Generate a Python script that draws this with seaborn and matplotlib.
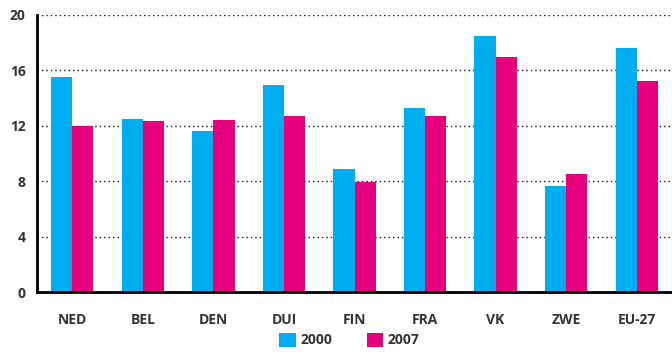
import matplotlib
matplotlib.use("Agg")
import matplotlib.pyplot as plt
from matplotlib.ticker import FixedLocator
from matplotlib.patches import Patch
import seaborn as sns
import pandas as pd

countries = ["NED", "BEL", "DEN", "DUI", "FIN", "FRA", "VK", "ZWE", "EU-27"]
years = ["2000", "2007"]
values_2000 = [15.5, 12.5, 11.6, 14.95, 8.9, 13.3, 18.45, 7.65, 17.65]
values_2007 = [12.0, 12.35, 12.45, 12.7, 7.95, 12.7, 17.0, 8.55, 15.2]
y_ticks = [0, 4, 8, 12, 16, 20]

colors = {"2000": "#00AEEF", "2007": "#E6007E"}
text_color = "#333333"

df = pd.DataFrame({
    "land": countries * 2,
    "jaar": [years[0]] * len(countries) + [years[1]] * len(countries),
    "waarde": values_2000 + values_2007,
})

sns.set_theme(style="white")
plt.rcParams["font.family"] = ["Open Sans", "DejaVu Sans"]

fig = plt.figure(figsize=(6.72, 3.55), dpi=100)
ax = fig.add_axes([37 / 672, (355 - 292) / 355, 1 - 37 / 672, (292 - 15) / 355])

sns.barplot(data=df, x="land", y="waarde", hue="jaar", order=countries,
            hue_order=years, palette=colors, width=0.6, saturation=1,
            edgecolor="none", linewidth=0, ax=ax, legend=False, zorder=3)

ax.set_xlim(-0.5, len(countries) - 0.5)
ax.set_ylim(0, 20)
ax.set_yticks(y_ticks)
ax.set_xlabel("")
ax.set_ylabel("")

# dotted horizontal grid
for y in y_ticks[1:]:
    ax.axhline(y, color="#111111", linestyle=(0, (1, 2.2)), linewidth=1.0, zorder=1)

for side in ["top", "right"]:
    ax.spines[side].set_visible(False)
for side in ["left", "bottom"]:
    ax.spines[side].set_color("black")
    ax.spines[side].set_linewidth(2)
    ax.spines[side].set_zorder(4)

# tick marks on category boundaries
ax.xaxis.set_minor_locator(FixedLocator([i - 0.5 for i in range(len(countries))]))
ax.tick_params(axis="x", which="major", length=0, pad=15, labelsize=10,
               labelcolor=text_color)
ax.tick_params(axis="x", which="minor", length=4, width=2, color="black",
               direction="out")
ax.tick_params(axis="y", which="major", length=4, width=1.2, color="black",
               direction="out", pad=4, labelsize=10, labelcolor=text_color)
for lab in ax.get_xticklabels() + ax.get_yticklabels():
    lab.set_fontweight("bold")

handles = [Patch(facecolor=colors[y], edgecolor="none", label=y) for y in years]
leg = fig.legend(handles=handles, loc="lower center", bbox_to_anchor=(0.52, 0.0),
                 ncol=2, frameon=False, handlelength=1.2, handleheight=1.2,
                 handletextpad=0.3, columnspacing=2.5, borderpad=0.05,
                 prop={"weight": "bold", "size": 10})
for t in leg.get_texts():
    t.set_color(text_color)

fig.savefig("out.png", dpi=100)
